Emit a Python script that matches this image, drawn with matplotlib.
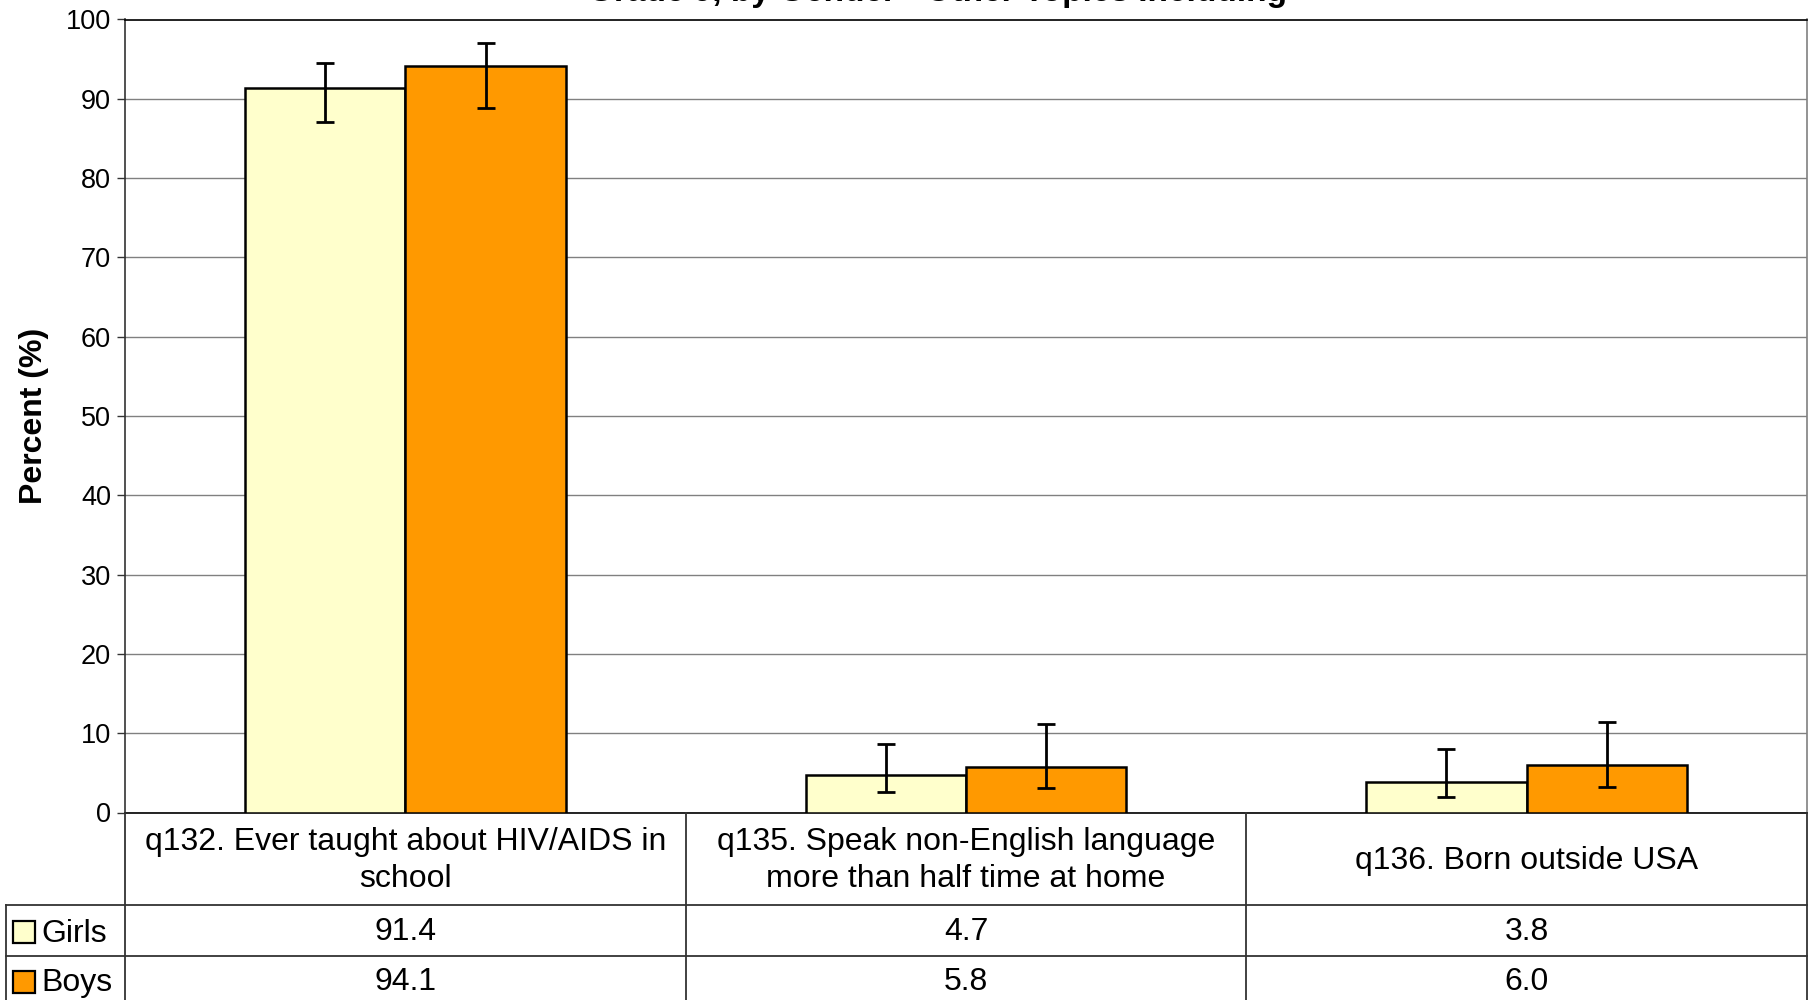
import matplotlib
matplotlib.use("Agg")
import matplotlib.pyplot as plt
import numpy as np
from matplotlib.patches import Rectangle

plt.rcParams['font.family'] = ['Liberation Sans', 'DejaVu Sans']

categories = ["q132. Ever taught about HIV/AIDS in\nschool",
              "q135. Speak non-English language\nmore than half time at home",
              "q136. Born outside USA"]
series_names = ["Girls", "Boys"]
girls = [91.4, 4.7, 3.8]
boys = [94.1, 5.8, 6.0]
girls_lo = [87.1, 2.6, 1.9]
girls_hi = [94.5, 8.7, 8.0]
boys_lo = [88.9, 3.1, 3.2]
boys_hi = [97.0, 11.2, 11.4]
yticks = [0, 10, 20, 30, 40, 50, 60, 70, 80, 90, 100]
title = "Grade 9, by Gender - Other Topics Including"

colors = ["#FFFFCC", "#FF9900"]

W, H = 1813, 1000
fig = plt.figure(figsize=(W / 100, H / 100), dpi=100)

# pixel layout
x0, x1 = 125, 1807
ytop, ybot = 19.5, 812.5
ax = fig.add_axes([x0 / W, 1 - ybot / H, (x1 - x0) / W, (ybot - ytop) / H])

n = len(categories)
x = np.arange(n)
bw = 0.286
vals = [girls, boys]
los = [girls_lo, boys_lo]
his = [girls_hi, boys_hi]
for i, (v, lo, hi, c) in enumerate(zip(vals, los, his, colors)):
    pos = x + (i - 0.5) * bw
    v = np.array(v)
    err = np.vstack([v - np.array(lo), np.array(hi) - v])
    ax.bar(pos, v, width=bw, color=c, edgecolor="black", linewidth=1.8, zorder=3)
    ax.errorbar(pos, v, yerr=err, fmt="none", ecolor="black", elinewidth=2.0,
                capsize=6.5, capthick=2.0, zorder=4)

ax.set_xlim(-0.5, n - 0.5)
ax.set_ylim(0, 100)
ax.set_yticks(yticks)
ax.set_yticklabels([str(t) for t in yticks], fontsize=19.5)
ax.set_xticks([])
ax.yaxis.grid(True, color="#808080", linewidth=1.0, zorder=0)
ax.set_axisbelow(True)
ax.tick_params(axis="y", length=6, width=1.0, color="#333333", pad=4)
ax.spines["left"].set_color("#333333")
ax.spines["bottom"].set_color("black")
ax.spines["top"].set_color("black")
ax.spines["right"].set_color("#808080")
for s in ax.spines.values():
    s.set_linewidth(1.2)
ax.set_ylabel("Percent (%)", fontsize=23, fontweight="bold", labelpad=12)

# title (mostly cut off at the top of the figure, as in the reference)
fig.text(937 / W, 1 - 0.5 / H, title, ha="center", va="baseline",
         fontsize=24, fontweight="bold")

# table in pixel coordinates
tax = fig.add_axes([0, 0, 1, 1])
tax.set_xlim(0, W)
tax.set_ylim(H, 0)
tax.axis("off")

col_edges = [x0 + (x1 - x0) * k / n for k in range(n + 1)]
r0, r1, r2, r3 = ybot, 905, 956, 1007
lc = "#333333"
lw = 1.3
for cx in col_edges:
    tax.plot([cx, cx], [r0, H], color=lc, lw=lw)
tax.plot([6, 6], [r1, H], color=lc, lw=lw)
tax.plot([6, x1], [r1, r1], color=lc, lw=lw)
tax.plot([6, x1], [r2, r2], color=lc, lw=lw)

fs = 23
for k in range(n):
    cx = (col_edges[k] + col_edges[k + 1]) / 2
    tax.text(cx, (r0 + r1) / 2 + 2, categories[k], ha="center", va="center",
             fontsize=fs, linespacing=1.3)
    tax.text(cx, (r1 + r2) / 2 + 2, f"{girls[k]:.1f}", ha="center", va="center", fontsize=fs)
    tax.text(cx, (r2 + r3) / 2 + 1, f"{boys[k]:.1f}", ha="center", va="center", fontsize=fs)

rows_y = [(r1 + r2) / 2 + 1, (r2 + r3) / 2]
for name, c, yy in zip(series_names, colors, rows_y):
    tax.add_patch(Rectangle((13, yy - 11), 22, 22, facecolor=c, edgecolor="black", lw=1.6))
    tax.text(41, yy + 2, name, ha="left", va="center", fontsize=fs)

fig.savefig("out.png", dpi=100)
